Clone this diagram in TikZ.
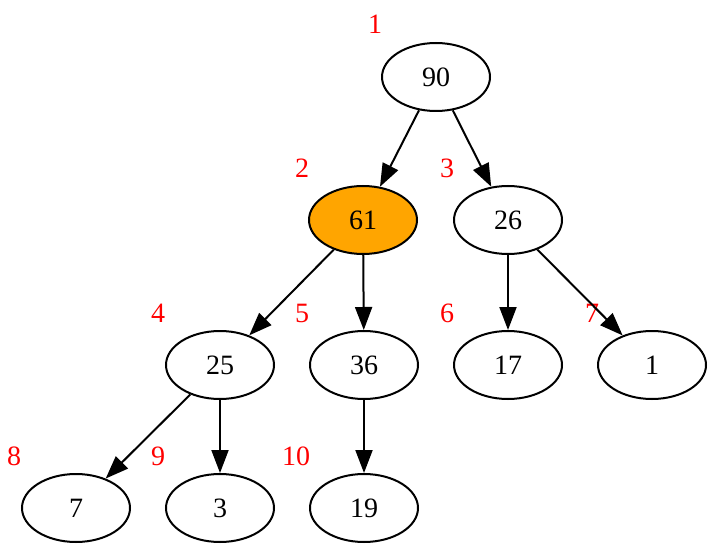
\documentclass[tikz,border=0pt]{standalone}
\usepackage{fontspec}
\setmainfont{Liberation Serif}
\usetikzlibrary{shapes.geometric,arrows.meta}
\definecolor{gvorange}{RGB}{255,165,0}
\begin{document}
\begin{tikzpicture}[x=1pt,y=-1pt,
  hnode/.style={draw,ellipse,minimum width=108pt,minimum height=68pt,inner sep=0pt,line width=2pt,font=\fontsize{28}{32}\selectfont},
  hot/.style={hnode,fill=gvorange},
  idx/.style={text=red,font=\fontsize{28}{32}\selectfont,inner sep=0pt},
  edge/.style={line width=2pt,-{Triangle[length=23pt,width=17pt]}}]
\useasboundingbox (0,0) rectangle (714,553);
\node[hnode] (n1) at (436,77) {90};
\node[hot] (n2) at (363,220) {61};
\node[hnode] (n3) at (508,220) {26};
\node[hnode] (n4) at (220,365) {25};
\node[hnode] (n5) at (364,365) {36};
\node[hnode] (n6) at (508,365) {17};
\node[hnode] (n7) at (652,365) {1};
\node[hnode] (n8) at (76,508) {7};
\node[hnode] (n9) at (220,508) {3};
\node[hnode] (n10) at (364,508) {19};
\node[idx] (l1) at (375,24) {1};
\node[idx] (l2) at (302,168) {2};
\node[idx] (l3) at (447,168) {3};
\node[idx] (l4) at (158,313) {4};
\node[idx] (l5) at (302,313) {5};
\node[idx] (l6) at (447,313) {6};
\node[idx] (l7) at (592,313) {7};
\node[idx] (l8) at (14,456) {8};
\node[idx] (l9) at (158,456) {9};
\node[idx] (l10) at (296,456) {10};
\draw[edge] (n1) -- (n2);
\draw[edge] (n1) -- (n3);
\draw[edge] (n2) -- (n4);
\draw[edge] (n2) -- (n5);
\draw[edge] (n3) -- (n6);
\draw[edge] (n3) -- (n7);
\draw[edge] (n4) -- (n8);
\draw[edge] (n4) -- (n9);
\draw[edge] (n5) -- (n10);
\end{tikzpicture}
\end{document}
